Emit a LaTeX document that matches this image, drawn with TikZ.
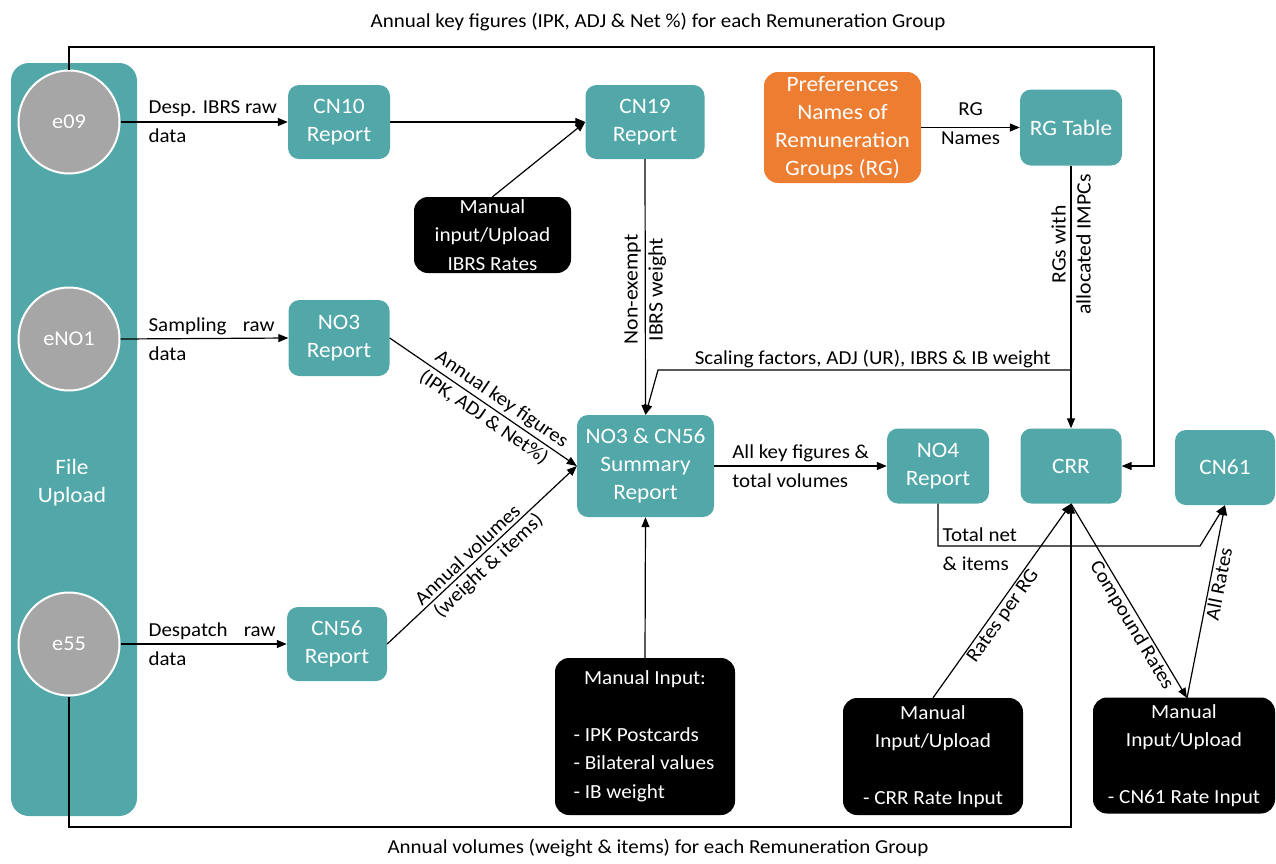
\documentclass[tikz,border=0pt]{standalone}
\usepackage{fontspec}
\setmainfont{Carlito}[FakeStretch=1.06]
\usetikzlibrary{arrows.meta,shapes.geometric}
\definecolor{tealbox}{RGB}{82,167,169}
\definecolor{orngbox}{RGB}{237,125,49}
\definecolor{greysrc}{RGB}{166,166,166}
\begin{document}
\begin{tikzpicture}[x=1pt,y=-1pt,
  box/.style={fill=tealbox, rounded corners=11pt, text=white, font=\fontsize{22}{28}\selectfont, align=center, inner sep=0pt},
  pref/.style={fill=orngbox, rounded corners=14pt, text=white, font=\fontsize{22}{28}\selectfont, align=center, inner sep=0pt},
  blk/.style={fill=black, rounded corners=14pt, text=white, font=\fontsize{20}{28.5}\selectfont, align=center, inner sep=0pt},
  src/.style={ellipse, fill=greysrc, draw=white, line width=2pt, minimum width=101pt, minimum height=103pt, text=white, font=\fontsize{21}{28}\selectfont, inner sep=0pt},
  lbl/.style={font=\fontsize{19.8}{29}\selectfont, text=black, inner sep=1.5pt},
  rlbl/.style={font=\fontsize{20.5}{25}\selectfont, text=black, inner sep=1.5pt, rotate=90, align=center},
  arr/.style={-{Triangle[length=10pt,width=8pt]}, line width=1.2pt},
  ln/.style={line width=1.2pt}
]
\useasboundingbox (0,0) rectangle (1276,863);

% File upload column
\node[fill=tealbox, rounded corners=18pt, minimum width=126pt, minimum height=753pt, inner sep=0pt] (fu) at (74,439.5) {};
\node[text=white, font=\fontsize{22}{28}\selectfont, align=center] (fut) at (72,483) {File\\Upload};

\node[src] (e09) at (69,122) {e09};
\node[src] (eno1) at (69,339) {eNO1};
\node[src] (e55) at (69,644) {e55};

% Teal boxes
\node[box, minimum width=102pt, minimum height=74pt] (cn10) at (339,122) {CN10\\Report};
\node[box, minimum width=119pt, minimum height=74pt] (cn19) at (645,122) {CN19\\Report};
\node[pref, minimum width=157pt, minimum height=111pt] (pref) at (842.5,127.5) {Preferences\\Names of\\Remuneration\\Groups (RG)};
\node[box, minimum width=102pt, minimum height=76pt] (rgt) at (1071,127.5) {RG Table};
\node[box, minimum width=101pt, minimum height=76pt] (no3) at (339,338) {NO3\\Report};
\node[box, minimum width=137pt, minimum height=102pt] (sum) at (645.5,466) {NO3 \& CN56\\Summary\\Report};
\node[box, minimum width=102pt, minimum height=75pt] (no4) at (938,466) {NO4\\Report};
\node[box, minimum width=101pt, minimum height=75pt] (crr) at (1071,466) {CRR};
\node[box, minimum width=100pt, minimum height=75pt] (cn61) at (1225,467.5) {CN61};
\node[box, minimum width=100pt, minimum height=74pt] (cn56) at (337,644) {CN56\\Report};

% Black boxes
\node[blk, minimum width=157pt, minimum height=76pt] (ibrs) at (492.5,235) {Manual\\input/Upload\\IBRS Rates};
\node[blk, minimum width=180pt, minimum height=157pt] (man) at (645,736.5) {Manual Input:\\[28pt]\makebox[143pt][l]{- IPK Postcards}\\\makebox[143pt][l]{- Bilateral values}\\\makebox[143pt][l]{- IB weight}};
\node[blk, minimum width=180pt, minimum height=117pt] (mcrr) at (933,756.5) {Manual\\Input/Upload\\[28pt]- CRR Rate Input};
\node[blk, minimum width=182pt, minimum height=116pt] (mcn61) at (1184,755.5) {Manual\\Input/Upload\\[28pt]- CN61 Rate Input};

% Coordinates
\coordinate (tr) at (1154,47);
\coordinate (sj) at (1071,370);
\coordinate (sk) at (658,370);
\coordinate (jn) at (1200,546);
\coordinate (bl) at (1071,827);
\coordinate (mcn61t) at (1187,698);

% Connectors
\draw[arr] (e09.north) |- (tr) |- (crr.east);
\node[lbl] (toplbl) at (658,22) {Annual key figures (IPK, ADJ \& Net \%) for each Remuneration Group};

\draw[arr] (e09.east) -- node[lbl, align=left, anchor=west, pos=0, xshift=26pt] {Desp. IBRS raw\\data} (cn10.west);
\draw[arr] (eno1.east) -- node[lbl, align=left, anchor=west, pos=0, xshift=26pt] {\makebox[126pt][s]{Sampling raw}\\data} (no3.west);
\draw[arr] (e55.east) -- node[lbl, align=left, anchor=west, pos=0, xshift=26pt] {\makebox[127pt][s]{Despatch raw}\\data} (cn56.west);

\draw[arr] (cn10.east) -- (cn19.west);
\draw[arr] (ibrs.north) -- (cn19.west);
\draw[arr] (cn19.south) -- node[rlbl, pos=0.51] {Non-exempt\\IBRS weight} (sum.north);
\draw[arr] (pref.east) -- node[lbl, align=center, yshift=4pt] {RG\\Names} (rgt.west);
\draw[arr] (rgt.south) -- node[rlbl, pos=0.30] {RGs with\\allocated IMPCs} (crr.north);
\draw[arr] (sj) -- node[lbl, above, pos=0.48] {Scaling factors, ADJ (UR), IBRS \& IB weight} (sk) -- (sum.north);

\draw[arr] (no3.east) -- node[lbl, sloped, above, pos=0.56, inner sep=3pt] {Annual key figures}
                         node[lbl, sloped, below, pos=0.54, inner sep=3pt] {(IPK, ADJ \& Net\%)} (sum.west);
\draw[arr] (cn56.east) -- node[lbl, sloped, above, pos=0.46, inner sep=3pt] {Annual volumes}
                          node[lbl, sloped, below, pos=0.49, inner sep=3pt] {(weight \& items)} (sum.west);

\draw[arr] (sum.east) -- node[lbl, align=left, anchor=west, pos=0, xshift=16pt] {All key figures \&\\total volumes} (no4.west);
\draw[arr] (man.north) -- (sum.south);

\draw[arr] (no4.south) |- (jn) -- (cn61.south);
\node[lbl, align=left, anchor=west] (tn) at (941,549) {Total net\\\& items};

\draw[arr] (mcrr.north) -- node[lbl, sloped, below, pos=0.45] {Rates per RG} (crr.south);
\draw[arr] (crr.south) -- node[lbl, sloped, below, pos=0.6] {Compound Rates} (mcn61t);
\draw[arr] (mcn61t) -- node[lbl, sloped, below, pos=0.6] {All Rates} (cn61.south);

\draw[arr] (e55.south) |- (bl) -- (crr.south);
\node[lbl] (botlbl) at (658,848) {Annual volumes (weight \& items) for each Remuneration Group};
\end{tikzpicture}
\end{document}
